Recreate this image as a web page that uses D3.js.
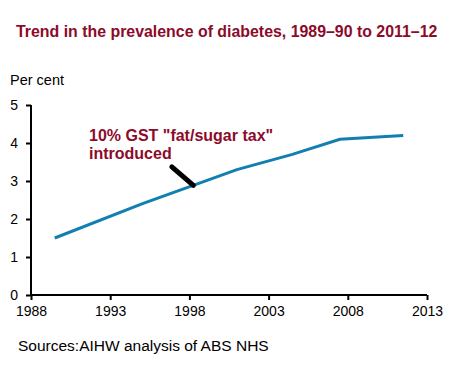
<!DOCTYPE html>
<html><head><meta charset="utf-8">
<script src="https://cdn.jsdelivr.net/npm/d3@7"></script>
<style>body{margin:0;background:#fff;}svg{display:block;font-family:Arial,"Liberation Sans",sans-serif;}</style>
</head><body>
<svg id="c" width="454" height="365"></svg>
<script>
const years = [1989.5, 1995, 2001, 2004.5, 2007.5, 2011.5];
const prevalence = [1.5, 2.4, 3.3, 3.7, 4.1, 4.2];
const xTicks = [1988, 1993, 1998, 2003, 2008, 2013];
const yTicks = [0, 1, 2, 3, 4, 5];
const title = "Trend in the prevalence of diabetes, 1989–90 to 2011–12";
const yLabel = "Per cent";
const source = "Sources:AIHW analysis of ABS NHS";
const annotLines = ['10% GST "fat/sugar tax"', 'introduced'];
const annotYear = 1998.25;

const svg = d3.select("#c");
const x = d3.scaleLinear().domain([1988, 2013]).range([31, 427]);
const y = d3.scaleLinear().domain([0, 5]).range([295, 105]);
const red = "#8c0a2a";

svg.append("text").attr("x", 16).attr("y", 37).attr("fill", red)
  .attr("font-weight", "bold").attr("font-size", 15.9).text(title);
svg.append("text").attr("x", 10).attr("y", 85).attr("font-size", 14.5).attr("fill", "#000").text(yLabel);

const xa = svg.append("g").attr("transform", "translate(0,295)")
  .call(d3.axisBottom(x).tickValues(xTicks).tickFormat(d3.format("d")).tickSize(5).tickPadding(6));
const ya = svg.append("g").attr("transform", "translate(31,0)")
  .call(d3.axisLeft(y).tickValues(yTicks).tickFormat(d3.format("d")).tickSize(5).tickPadding(8));
[xa, ya].forEach(g => {
  g.selectAll("path.domain").attr("stroke", "#000").attr("stroke-width", 2);
  g.selectAll(".tick line").attr("stroke", "#000").attr("stroke-width", 2);
  g.selectAll(".tick text").attr("fill", "#000").attr("font-size", 14).attr("font-family", "Arial, 'Liberation Sans', sans-serif");
});
xa.select("path.domain").attr("d", `M${x(1988)},0H${x(2013)}`);
ya.select("path.domain").attr("d", `M0,${y(5)}V${y(0)}`);

svg.append("path").datum(years.map((d, i) => [d, prevalence[i]]))
  .attr("fill", "none").attr("stroke", "#117fb0").attr("stroke-width", 3)
  .attr("d", d3.line().x(d => x(d[0])).y(d => y(d[1])));

// annotation pointer
const interp = d3.scaleLinear().domain(years).range(prevalence);
const px = x(annotYear), py = y(interp(annotYear));
svg.append("line").attr("x1", px - 21.5).attr("y1", py - 18.5).attr("x2", px).attr("y2", py)
  .attr("stroke", "#000").attr("stroke-width", 5).attr("stroke-linecap", "round");
const at = svg.append("text").attr("fill", red).attr("font-weight", "bold").attr("font-size", 16);
annotLines.forEach((t, i) => at.append("tspan").attr("x", 89).attr("y", 141 + i * 18).text(t));

svg.append("text").attr("x", 18).attr("y", 351).attr("font-size", 15.5).attr("fill", "#000").text(source);
</script>
</body></html>
